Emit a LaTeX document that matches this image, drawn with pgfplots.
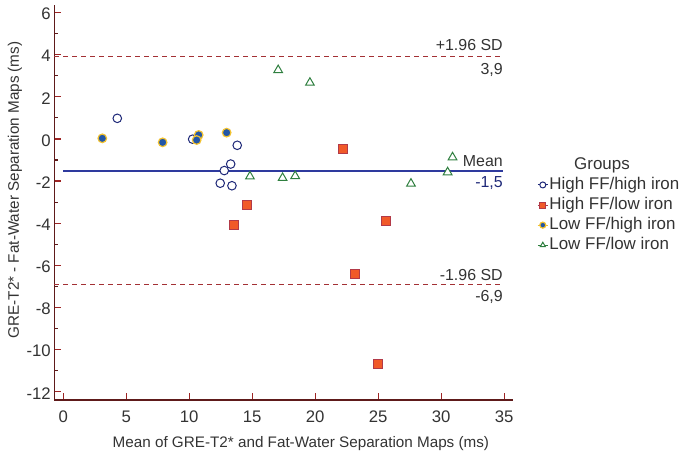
\documentclass[border=0pt]{standalone}
\usepackage{fontspec}
\setmainfont{Liberation Sans}
\usepackage{pgfplots}
\pgfplotsset{compat=1.18}
\definecolor{axred}{HTML}{5E1A1A}
\definecolor{tickred}{HTML}{9E2424}
\definecolor{sdred}{HTML}{A33034}
\definecolor{meanblue}{HTML}{2E3A9E}
\definecolor{navy}{HTML}{1E2878}
\definecolor{sqfill}{HTML}{F15A29}
\definecolor{sqedge}{HTML}{B23A48}
\definecolor{dotfill}{HTML}{2256A6}
\definecolor{dotedge}{HTML}{F2C230}
\definecolor{trigreen}{HTML}{2F7F3F}
\definecolor{txt}{HTML}{333333}
\begin{document}
\begin{tikzpicture}[x=1bp,y=1bp]
\useasboundingbox (0,0) rectangle (685,454);
\begin{axis}[
  at={(54.3bp,54bp)}, anchor=south west,
  scale only axis, width=458.7bp, height=395bp,
  xmin=-0.71, xmax=35.7, ymin=-12.39, ymax=6.36,
  axis x line*=bottom, axis y line*=left,
  axis line style={axred, line width=1.4bp},
  every major tick/.style={tickred, line width=1.3bp},
  every minor tick/.style={axred, line width=1.1bp},
  tick align=inside,
  major tick length=7bp, minor tick length=4bp,
  xtick={0,5,...,35}, ytick={-12,-10,...,6},
  minor ytick={-11,-9,...,5},
  /pgf/number format/assume math mode=true,
  tick label style={font=\fontsize{16.8}{19}\selectfont, text=txt},
  xticklabel style={anchor=center, yshift=-16.7bp},
  yticklabel style={yshift=-1.5bp},
  label style={font=\fontsize{15.3}{18}\selectfont, text=txt},
  xlabel={Mean of GRE-T2* and Fat-Water Separation Maps (ms)},
  ylabel={GRE-T2* - Fat-Water Separation Maps (ms)},
  xlabel style={at={(axis description cs:0.5376,-0.1096)}, anchor=center},
  ylabel style={at={(axis description cs:-0.0857,0.5316)}, anchor=center},
  clip=false,
  legend style={at={(axis description cs:1.0458,0.5734)}, anchor=north west,
    draw=none, fill=none, font=\fontsize{17}{19}\selectfont, text=txt,
    row sep=1.6bp, nodes={inner sep=1bp, text height=12.5bp, text depth=4bp}},
  legend cell align=left,
  legend image code/.code={\path (0bp,0bp) -- (10bp,0bp); \draw[#1, /tikz/mark size=3bp] plot coordinates {(5bp,0bp)};},
]
% reference lines
\addplot[sdred, line width=1bp, dash pattern=on 5bp off 4bp, forget plot] coordinates {(-0.71,3.9) (34.9,3.9)};
\addplot[sdred, line width=1bp, dash pattern=on 5bp off 4bp, forget plot] coordinates {(-0.71,-6.92) (34.9,-6.92)};
\addplot[meanblue, line width=2bp, forget plot] coordinates {(0,-1.5) (34.9,-1.5)};
% High FF/high iron
\addplot[only marks, mark=*, mark size=4.3bp, draw=navy, fill=white, line width=1bp] coordinates {
 (4.29,0.98) (10.27,-0.01) (13.81,-0.30) (13.29,-1.19) (12.78,-1.50) (12.46,-2.10) (13.39,-2.22)};
\addlegendentry{High FF/high iron}
% High FF/low iron
\addplot[only marks, mark=square*, mark size=4.5bp, draw=sqedge, fill=sqfill, line width=0.9bp] coordinates {
 (22.17,-0.46) (14.56,-3.13) (13.55,-4.08) (25.61,-3.89) (23.17,-6.41) (25.00,-10.68)};
\addlegendentry{High FF/low iron}
% Low FF/high iron
\addplot[only marks, mark=*, mark size=4.3bp, draw=dotedge, fill=dotfill, line width=1.2bp] coordinates {
 (3.10,0.03) (7.89,-0.16) (10.75,0.19) (10.59,-0.05) (12.97,0.30)};
\addlegendentry{Low FF/high iron}
% Low FF/low iron
\addplot[only marks, mark=triangle*, mark size=5bp, draw=trigreen, fill=white, line width=1bp] coordinates {
 (14.82,-1.78) (17.06,3.27) (19.58,2.67) (30.90,-0.87) (30.51,-1.58) (17.41,-1.85) (18.41,-1.76) (27.60,-2.12)};
\addlegendentry{Low FF/low iron}
% annotations
\begin{scope}[every node/.style={font=\fontsize{16}{18}\selectfont, text=txt, inner sep=0pt}]
\node[anchor=base east] at ([yshift=6bp]axis cs:34.9,3.9) {+1.96 SD};
\node[anchor=base east] at ([yshift=-18bp]axis cs:34.9,3.9) {3,9};
\node[anchor=base east] at ([yshift=4bp]axis cs:34.9,-1.5) {Mean};
\node[anchor=base east, text=navy] at ([yshift=-17bp]axis cs:34.9,-1.5) {-1,5};
\node[anchor=base east] at ([yshift=4bp]axis cs:34.9,-6.92) {-1.96 SD};
\node[anchor=base east] at ([yshift=-17bp]axis cs:34.9,-6.92) {-6,9};
\end{scope}
\end{axis}
\node[font=\fontsize{17}{19}\selectfont, text=txt] at (602,289) {Groups};
\end{tikzpicture}
\end{document}
